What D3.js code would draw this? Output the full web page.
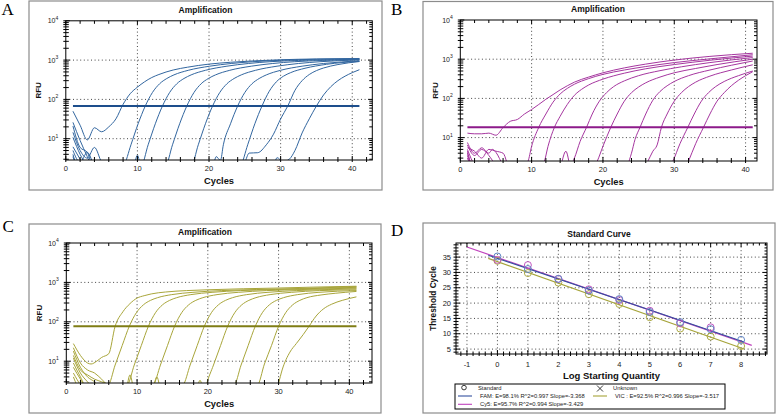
<!DOCTYPE html>
<html><head><meta charset="utf-8">
<script src="https://cdn.jsdelivr.net/npm/d3@7"></script>
<style>body{margin:0;background:#fff}svg{display:block}</style>
</head><body>
<svg id="c" width="778" height="415"></svg>
<script>
// ---------------- DATA ----------------
const cycleTicks = [0, 10, 20, 30, 40];
const rfuTicks = [10, 100, 1000, 10000];
const rfuExp = ["1", "2", "3", "4"];

const famThreshold = 68;
const cy5Threshold = 18.3;
const vicThreshold = 77;

// FAM amplification curves [cycle, RFU]
const famCurves = [
 [[1,50],[2,22],[3,9.3],[4,19],[5,15],[6,20],[7,32],[8,75],[9,140],[10,205],[11,280],[12,360],[13,430],[15,560],[17,660],[20,790],[23,880],[26,950],[30,1020],[35,1070],[41,1100]],
 [[1,26],[2,9],[3,3.5],[4,1.5],[7.5,1.5],[8.1,2],[9.1,7],[10.1,24],[11.1,68],[12.1,150],[13.1,250],[14.1,340],[15.1,420],[17.1,550],[20.1,700],[23.1,820],[26.1,910],[30.1,990],[35.1,1050],[41,1080]],
 [[1,21],[2,6],[3,4.5],[4,1.5],[9.3,1.5],[10,3.8],[10.5,2],[11.5,7],[12.5,24],[13.5,68],[14.5,150],[15.5,250],[16.5,340],[17.5,420],[19.5,550],[22.5,700],[25.5,820],[28.5,910],[32.5,980],[37.5,1030],[41,1050]],
 [[1,14.5],[2,5],[3,3.2],[4,6],[5,2.5],[6,1.5],[13.9,2],[14.9,7],[15.9,24],[16.9,68],[17.9,150],[18.9,250],[19.9,340],[20.9,420],[22.9,550],[25.9,700],[28.9,820],[31.9,910],[35.9,980],[41,1040]],
 [[1,10.8],[2,4],[3,2],[4,1.5],[17.5,2],[18.5,7],[19.5,24],[20.5,68],[21.5,150],[22.5,250],[23.5,340],[24.5,420],[26.5,550],[29.5,700],[32.5,820],[35.5,910],[41,1010]],
 [[1,6.2],[2,3],[3,1.5],[20.4,1.5],[21,3.5],[21.6,2.8],[22,7],[23,24],[24,68],[25,150],[26,250],[27,340],[28,420],[30,550],[33,700],[36,820],[41,960]],
 [[1,5],[2,2.5],[3,4.5],[4,2],[5,1.5],[23.4,1.5],[24.4,2],[25.4,7],[26.4,24],[27.4,68],[28.4,160],[29.4,280],[30.4,390],[31.4,480],[33.4,620],[36.4,780],[41,930]],
 [[1,4],[2,1.5],[24,1.5],[25,2.5],[25.6,4.3],[26.8,4.4],[28,7],[29,13],[30,32],[31,68],[32,170],[33,300],[34,430],[35,540],[36,630],[38,770],[41,920]],
 [[1,3.5],[2,1.5],[28.8,1.5],[29.5,3.3],[30.3,2.6],[31.2,3],[32,5],[33,14],[34,32],[35,68],[36,130],[37,210],[38,300],[39,390],[40,480],[41,570]]
];

// Cy5 amplification curves
const cy5Curves = [
 [[1,13],[2,12.5],[3,12.5],[4,13],[5,11.5],[6,18],[7,26],[8,29],[9,40],[10,52],[11,70],[12,95],[13,125],[14,165],[15,210],[16,260],[18,350],[20,450],[23,600],[26,750],[30,950],[35,1180],[41,1420]],
 [[1,7.5],[2,4],[3,5.5],[4,3.5],[5,2],[6,1.5],[8.5,1.5],[9.5,2.5],[10,6],[11,18.3],[12,40],[13,80],[14,130],[15,180],[16,230],[18,320],[20,410],[23,530],[26,650],[30,820],[35,1020],[41,1300]],
 [[1,6.5],[2,3.5],[3,5],[4,4],[4.5,5],[5,4.2],[6,2],[7,1.5],[11,1.5],[11.8,2.5],[12.3,6],[13.2,18.3],[14,35],[15,70],[16,120],[17,170],[18,220],[20,310],[23,440],[26,570],[30,730],[35,940],[41,1200]],
 [[1,5.5],[2,4.5],[3,3],[4,5],[5,4.5],[6,4],[7,1.5],[15,1.5],[16,3],[16.8,8],[17.7,18.3],[18.5,40],[19.5,85],[20.5,140],[21.5,200],[23,280],[25,380],[28,510],[31,640],[35,820],[41,1100]],
 [[1,5],[2,2],[3,1.5],[13.8,1.5],[14.8,4.5],[15.6,1.5],[18.5,1.5],[19.2,2.5],[20,6],[21.1,18.3],[22,40],[23,85],[24,140],[25,195],[26,250],[28,350],[30,450],[33,580],[36,730],[41,1000]],
 [[1,4.5],[2,1.5],[23,1.5],[24,4],[24.5,9],[25.2,18.3],[26,40],[27,90],[28,150],[29,210],[30,270],[32,380],[35,530],[38,700],[41,900]],
 [[1,4],[2,1.5],[25.5,1.5],[26.3,2.5],[27,4.5],[27.6,6.5],[28.2,18.3],[29,40],[30,85],[31,140],[32,200],[33,260],[35,370],[38,530],[41,720]],
 [[1,3.5],[2,1.5],[29,1.5],[29.8,2.5],[30.8,7],[31.9,18.3],[32.8,40],[33.8,85],[34.8,140],[35.8,200],[37,270],[39,380],[41,500]],
 [[1,3],[2,1.5],[31.5,1.5],[32,2.5],[33,7],[34.1,18.3],[35,40],[36,85],[37,140],[38,210],[39,290],[40,380],[41,480]]
];

// VIC amplification curves
const vicCurves = [
 [[1,28],[2,14],[3,9],[3.5,8.5],[4.3,10],[5,12.5],[6,15.5],[6.9,77],[8,180],[9,290],[10,400],[11,460],[12,510],[14,570],[17,620],[20,650],[25,690],[30,720],[35,760],[41,800]],
 [[1,22],[2,9],[3,6],[4,5],[5,3.5],[5.9,2.5],[6.9,8],[7.9,25],[8.9,77],[9.9,170],[10.9,270],[11.9,350],[12.9,410],[14.9,490],[17.9,560],[21.9,620],[26.9,660],[33,700],[41,780]],
 [[1,18],[2,7],[3,4],[4,3],[5,2],[8.6,2.5],[9.6,8],[10.6,25],[11.6,77],[12.6,170],[13.6,270],[14.6,350],[15.6,410],[17.6,490],[20.6,560],[24.6,620],[29.6,660],[35,700],[41,750]],
 [[1,14],[2,6],[3,4.5],[4,3.5],[5,3],[6,2.5],[7,1.5],[8.3,1.5],[9,4.5],[9.7,1.5],[12.3,2.5],[13.3,8],[14.3,25],[15.3,77],[16.3,170],[17.3,270],[18.3,350],[19.3,410],[21.3,490],[24.3,560],[28.3,620],[33.3,660],[41,720]],
 [[1,12],[2,5],[3,3],[4,2],[12,1.5],[12.8,4],[13.5,1.5],[16.5,2.5],[17.5,8],[18.5,25],[19.5,77],[20.5,170],[21.5,270],[22.5,350],[23.5,410],[25.5,490],[28.5,560],[32.5,620],[37,660],[41,690]],
 [[1,9],[2,4],[3,2],[18.2,1.5],[18.9,3.3],[19.5,1.5],[19.8,2.5],[20.8,8],[21.8,25],[22.8,77],[23.8,170],[24.8,270],[25.8,350],[26.8,410],[28.8,490],[31.8,560],[35.8,620],[41,650]],
 [[1,7],[2,3.5],[3,2],[23.7,2.5],[24.7,8],[25.7,25],[26.7,77],[27.7,170],[28.7,270],[29.7,350],[30.7,410],[32.7,490],[35.7,560],[41,620]],
 [[1,5],[2,2.5],[3,1.5],[27,2.5],[28,8.5],[29,25],[30,77],[31,170],[32,270],[33,350],[34,410],[36,480],[38,530],[41,590]],
 [[1,4],[2,2],[29.5,1.5],[30,2.8],[30.5,6],[31.6,17],[32.5,28],[33.5,48],[34.3,77],[35.3,140],[36.3,210],[37.5,280],[39,350],[41,430]]
];

// Standard curve
const logQty = [0, 1, 2, 3, 4, 5, 6, 7, 8];
const famCt = [35.2, 31.1, 27.9, 24.1, 21.3, 17.1, 13.8, 11.5, 8.0];
const cy5Ct = [34.1, 32.4, 27.9, 24.5, 21.0, 17.5, 13.4, 12.1];
const vicCt = [33.8, 29.8, 26.7, 22.9, 19.7, 15.4, 11.7, 9.1, 6.0];
const slopes = { FAM: -3.368, Cy5: -3.429, VIC: -3.517 };
const fitRange = { FAM: [-0.3, 8.1], Cy5: [-1, 8.35], VIC: [-0.3, 8.1] };
const logTicks = [-1, 0, 1, 2, 3, 4, 5, 6, 7, 8];
const ctTicks = [5, 10, 15, 20, 25, 30, 35];
const legendTexts = {
  FAM: "FAM: E=98.1%  R^2=0.997 Slope=-3.368",
  Cy5: "Cy5: E=95.7%  R^2=0.994 Slope=-3.429",
  VIC: "VIC : E=92.5%  R^2=0.996 Slope=-3.517"
};

// ---------------- DRAWING ----------------
const SANS = "'Liberation Sans', Arial, Helvetica, sans-serif";
const SERIF = "'Liberation Serif', 'Times New Roman', serif";
const svg = d3.select('#c');
svg.append('rect').attr('width', 778).attr('height', 415).attr('fill', '#fff');

function frame(f) {
  svg.append('rect').attr('x', f[0]).attr('y', f[1]).attr('width', f[2] - f[0]).attr('height', f[3] - f[1])
    .attr('fill', '#fff').attr('stroke', '#8c8c8c').attr('stroke-width', 1.2);
}
function letter(t, x, y) {
  svg.append('text').attr('x', x).attr('y', y).attr('font-family', SERIF).attr('font-size', 17).attr('fill', '#000').text(t);
}
function gridLine(g, x1, y1, x2, y2) {
  g.append('line').attr('x1', x1).attr('y1', y1).attr('x2', x2).attr('y2', y2)
    .attr('stroke', '#444').attr('stroke-width', 1).attr('stroke-dasharray', '1,2.6');
}
function tick(g, x1, y1, x2, y2) {
  g.append('line').attr('x1', x1).attr('y1', y1).attr('x2', x2).attr('y2', y2).attr('stroke', '#000').attr('stroke-width', 1);
}

function ampPanel(p) {
  frame(p.frame);
  letter(p.letter, p.letterPos[0], p.letterPos[1]);
  const [X0, Y0, X1, Y1] = p.plot;
  const g = svg.append('g');
  const x = d3.scaleLinear().domain([0, p.xMax]).range([X0, X1]);
  const y = d3.scaleLog().domain([p.yMin, 10000]).range([Y1, Y0]);
  const fcx = (p.frame[0] + p.frame[2]) / 2;

  cycleTicks.filter(t => t > 0).forEach(t => gridLine(g, x(t), Y0, x(t), Y1));
  rfuTicks.filter(t => t < 10000).forEach(t => gridLine(g, X0, y(t), X1, y(t)));

  const cid = 'clip' + p.letter;
  svg.append('clipPath').attr('id', cid).append('rect').attr('x', X0).attr('y', Y0).attr('width', X1 - X0).attr('height', Y1 - Y0);
  const cg = g.append('g').attr('clip-path', `url(#${cid})`);
  const line = d3.line().x(d => x(d[0])).y(d => y(d[1])).curve(d3.curveMonotoneX);
  p.curves.forEach(c => {
    cg.append('path').attr('d', line(c)).attr('fill', 'none').attr('stroke', p.color).attr('stroke-width', 1);
  });
  cg.append('line').attr('x1', x(1)).attr('x2', x(41)).attr('y1', y(p.threshold)).attr('y2', y(p.threshold))
    .attr('stroke', p.thColor).attr('stroke-width', 2.1);

  g.append('rect').attr('x', X0).attr('y', Y0).attr('width', X1 - X0).attr('height', Y1 - Y0)
    .attr('fill', 'none').attr('stroke', '#000').attr('stroke-width', 1);

  d3.range(0, p.xMax, 2).forEach(t => {
    const xx = x(t); const major = t % 10 === 0;
    tick(g, xx, Y1 + 2, xx, Y1 - (major ? 4 : 3));
    tick(g, xx, Y0, xx, Y0 + (major ? 4 : 3));
  });
  for (let d = 0; d < 4; d++) {
    for (let k = 1; k <= 9; k++) {
      const v = k * Math.pow(10, d);
      if (v < p.yMin || v > 10000) continue;
      const yy = y(v); const major = k === 1;
      tick(g, X0 - 2.5, yy, X0 + (major ? 4 : 3), yy);
      tick(g, X1, yy, X1 - (major ? 4 : 3), yy);
    }
  }
  tick(g, X0 - 2.5, y(10000), X0 + 4, y(10000));

  cycleTicks.forEach(t => {
    g.append('text').attr('x', x(t)).attr('y', Y1 + 10.5).attr('text-anchor', 'middle')
      .attr('font-family', SANS).attr('font-size', 7.5).attr('fill', '#222').text(t);
  });
  rfuTicks.forEach((t, i) => {
    const tx = g.append('text').attr('x', X0 - 7.5).attr('y', y(t) + 2.6).attr('text-anchor', 'end')
      .attr('font-family', SANS).attr('font-size', 7).attr('fill', '#222');
    tx.append('tspan').text('10');
    tx.append('tspan').attr('dy', -3.6).attr('font-size', 5).text(rfuExp[i]);
  });

  g.append('text').attr('x', fcx).attr('y', Y0 - 8.3).attr('text-anchor', 'middle').attr('font-family', SANS)
    .attr('font-weight', 'bold').attr('font-size', 8.5).attr('fill', '#111').text('Amplification');
  g.append('text').attr('x', (X0 + X1) / 2).attr('y', Y1 + 23.8).attr('text-anchor', 'middle').attr('font-family', SANS)
    .attr('font-weight', 'bold').attr('font-size', 9.3).attr('fill', '#111').text('Cycles');
  g.append('text').attr('transform', `translate(${p.rfuX},${(Y0 + Y1) / 2}) rotate(-90)`).attr('text-anchor', 'middle')
    .attr('font-family', SANS).attr('font-weight', 'bold').attr('font-size', 8).attr('fill', '#111').text('RFU');
}

ampPanel({ letter: 'A', letterPos: [1.5, 15], frame: [29, 1, 382, 190], plot: [65.8, 20.8, 372.3, 160],
  xMax: 42.8, yMin: 2.87, curves: famCurves, threshold: famThreshold, color: '#32669f', thColor: '#1d4e8c', rfuX: 40.5 });
ampPanel({ letter: 'B', letterPos: [391, 14.5], frame: [423, 1.5, 773, 190], plot: [460.3, 20, 757, 161],
  xMax: 41.6, yMin: 2.53, curves: cy5Curves, threshold: cy5Threshold, color: '#a5369f', thColor: '#8d1a8a', rfuX: 437.5 });
ampPanel({ letter: 'C', letterPos: [2.5, 232], frame: [29, 224, 381, 413], plot: [66.3, 243, 372, 383],
  xMax: 43.2, yMin: 2.8, curves: vicCurves, threshold: vicThreshold, color: '#a8a53a', thColor: '#7f7d14', rfuX: 41.5 });

// ---------------- Panel D ----------------
(function () {
  frame([423, 223, 775, 413]);
  letter('D', 391, 236);
  const X0 = 456, Y0 = 243, X1 = 767, Y1 = 354;
  const g = svg.append('g');
  const x = d3.scaleLinear().domain([-1.36, 8.85]).range([X0, X1]);
  const y = d3.scaleLinear().domain([3.4, 39.6]).range([Y1, Y0]);
  logTicks.forEach(t => gridLine(g, x(t), Y0, x(t), Y1));
  ctTicks.forEach(t => gridLine(g, X0, y(t), X1, y(t)));

  const colors = { FAM: '#34509f', Cy5: '#c043bd', VIC: '#a6a43a' };
  const ptColors = { FAM: '#5f84c4', Cy5: '#c458c2', VIC: '#aeab45' };
  const sets = { VIC: vicCt, Cy5: cy5Ct, FAM: famCt };
  ['VIC', 'Cy5', 'FAM'].forEach(k => {
    const ct = sets[k];
    const xs = logQty.slice(0, ct.length);
    const b = d3.mean(ct) - slopes[k] * d3.mean(xs);
    const r = fitRange[k];
    g.append('line').attr('x1', x(r[0])).attr('y1', y(b + slopes[k] * r[0])).attr('x2', x(r[1])).attr('y2', y(b + slopes[k] * r[1]))
      .attr('stroke', colors[k]).attr('stroke-width', 1.2);
  });
  ['VIC', 'Cy5', 'FAM'].forEach(k => {
    const ct = sets[k];
    ct.forEach((v, i) => {
      g.append('circle').attr('cx', x(logQty[i])).attr('cy', y(v)).attr('r', 3.5)
        .attr('fill', 'none').attr('stroke', ptColors[k]).attr('stroke-width', 1);
    });
  });

  g.append('rect').attr('x', X0).attr('y', Y0).attr('width', X1 - X0).attr('height', Y1 - Y0)
    .attr('fill', 'none').attr('stroke', '#000').attr('stroke-width', 1);
  d3.range(-1.2, 8.85, 0.2).forEach(t => {
    const xx = x(t); const major = Math.abs(t - Math.round(t)) < 1e-6;
    tick(g, xx, Y1 + 2, xx, Y1 - (major ? 4 : 2.5));
    tick(g, xx, Y0, xx, Y0 + (major ? 4 : 2.5));
  });
  d3.range(4, 40, 1).forEach(t => {
    const yy = y(t); const major = t % 5 === 0;
    tick(g, X0 - 2.5, yy, X0 + (major ? 4 : 2.5), yy);
    tick(g, X1, yy, X1 - (major ? 4 : 2.5), yy);
  });
  logTicks.forEach(t => {
    g.append('text').attr('x', x(t)).attr('y', Y1 + 12.5).attr('text-anchor', 'middle').attr('font-family', SANS)
      .attr('font-size', 7.5).attr('fill', '#222').text(t);
  });
  ctTicks.forEach(t => {
    g.append('text').attr('x', X0 - 5).attr('y', y(t) + 2.7).attr('text-anchor', 'end').attr('font-family', SANS)
      .attr('font-size', 7.5).attr('fill', '#222').text(t);
  });
  g.append('text').attr('x', 599).attr('y', 237).attr('text-anchor', 'middle').attr('font-family', SANS)
    .attr('font-weight', 'bold').attr('font-size', 8.5).attr('fill', '#111').text('Standard Curve');
  g.append('text').attr('x', (X0 + X1) / 2).attr('y', 378.5).attr('text-anchor', 'middle').attr('font-family', SANS)
    .attr('font-weight', 'bold').attr('font-size', 9.5).attr('fill', '#111').text('Log Starting Quantity');
  g.append('text').attr('transform', `translate(436,${(Y0 + Y1) / 2}) rotate(-90)`).attr('text-anchor', 'middle')
    .attr('font-family', SANS).attr('font-weight', 'bold').attr('font-size', 8.3).attr('fill', '#111').text('Threshold Cycle');

  const L = svg.append('g');
  L.append('rect').attr('x', 455).attr('y', 384).attr('width', 270).attr('height', 25).attr('fill', '#fff').attr('stroke', '#000').attr('stroke-width', 1);
  const fs = 5.8;
  L.append('circle').attr('cx', 464).attr('cy', 387.6).attr('r', 2.3).attr('fill', 'none').attr('stroke', '#222').attr('stroke-width', 0.9);
  L.append('text').attr('x', 478).attr('y', 389.8).attr('font-family', SANS).attr('font-size', fs).attr('fill', '#222').text('Standard');
  L.append('line').attr('x1', 597).attr('y1', 385.5).attr('x2', 603).attr('y2', 391.5).attr('stroke', '#222').attr('stroke-width', 0.9);
  L.append('line').attr('x1', 603).attr('y1', 385.5).attr('x2', 597).attr('y2', 391.5).attr('stroke', '#222').attr('stroke-width', 0.9);
  L.append('text').attr('x', 613).attr('y', 389.8).attr('font-family', SANS).attr('font-size', fs).attr('fill', '#222').text('Unknown');
  const rows = [['FAM', 458, 472, 480, 396], ['Cy5', 458, 472, 480, 404.3], ['VIC', 593, 607, 615, 396]];
  rows.forEach(r => {
    L.append('line').attr('x1', r[1]).attr('x2', r[2]).attr('y1', r[4]).attr('y2', r[4]).attr('stroke', colors[r[0]]).attr('stroke-width', 1.1);
    L.append('text').attr('x', r[3]).attr('y', r[4] + 2).attr('font-family', SANS).attr('font-size', fs).attr('fill', '#222').text(legendTexts[r[0]]);
  });
})();
</script>
</body></html>
